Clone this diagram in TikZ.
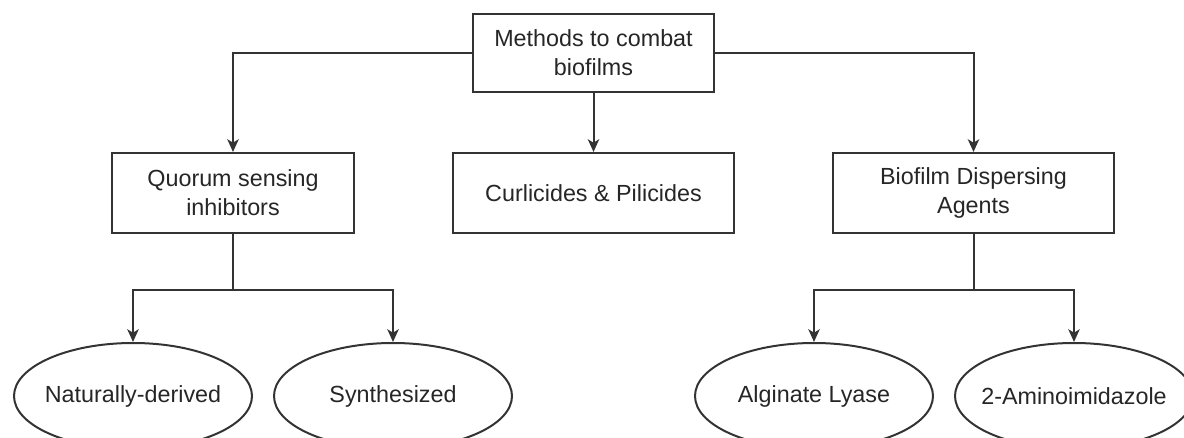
\documentclass[tikz,border=0pt]{standalone}
\usepackage{fontspec}
\setmainfont{Liberation Sans}
\usetikzlibrary{arrows.meta,shapes.geometric}
\begin{document}
\begin{tikzpicture}[x=0.75pt,y=-0.75pt,
  every node/.style={font=\fontsize{17.5pt}{21.75pt}\selectfont, text=black!85, align=center, inner sep=0pt},
  boxnode/.style={draw=black!80, line width=1.5pt, rectangle, fill=white, minimum height=60pt},
  ellnode/.style={draw=black!80, line width=1.5pt, ellipse, minimum width=178.5pt, minimum height=79.5pt},
  conn/.style={draw=black!80, line width=1.5pt},
  arr/.style={conn, -{Stealth[length=9.5pt,width=8.5pt,inset=2.5pt]}}
]
\useasboundingbox (0,0) rectangle (1184,438);
\node[boxnode, minimum width=180.75pt, minimum height=58.5pt] (top) at (593.5,53) {Methods to combat\\biofilms};
\node[boxnode, minimum width=181.5pt] (qsi) at (233,193) {Quorum sensing\\inhibitors};
\node[boxnode, minimum width=210.75pt] (cp) at (593.5,193) {Curlicides \& Pilicides};
\node[boxnode, minimum width=210.75pt] (bda) at (973.5,193) {Biofilm Dispersing\\Agents};
\node[ellnode] (nd) at (133,396) {\makebox[0pt]{Naturally-derived}};
\node[ellnode] (sy) at (393,396) {\makebox[0pt]{Synthesized}};
\node[ellnode] (al) at (814,396) {\makebox[0pt]{Alginate Lyase}};
\node[ellnode] (ai) at (1074,396) {\makebox[0pt]{2-Aminoimidazole}};
\coordinate (qsplit) at (233,290);
\coordinate (bsplit) at (973.5,290);
\draw[arr] (top.west) -| (qsi.north);
\draw[arr] (top.east) -| (bda.north);
\draw[arr] (top.south) -- (cp.north);
\draw[conn] (qsi.south) -- (qsplit);
\draw[arr] (qsplit) -| (nd.north);
\draw[arr] (qsplit) -| (sy.north);
\draw[conn] (bda.south) -- (bsplit);
\draw[arr] (bsplit) -| (al.north);
\draw[arr] (bsplit) -| (ai.north);
\end{tikzpicture}
\end{document}
